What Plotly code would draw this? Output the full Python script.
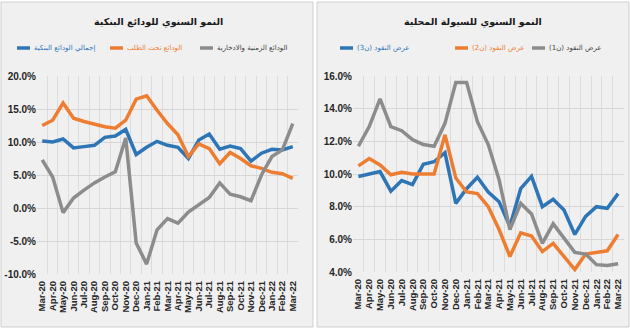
import plotly.graph_objects as go

months = ["Mar-20","Apr-20","May-20","Jun-20","Jul-20","Aug-20","Sep-20","Oct-20","Nov-20","Dec-20",
          "Jan-21","Feb-21","Mar-21","Apr-21","May-21","Jun-21","Jul-21","Aug-21","Sep-21","Oct-21",
          "Nov-21","Dec-21","Jan-22","Feb-22","Mar-22"]

# Left panel: bank deposits annual growth (%)
total_deposits = [10.15, 10.0, 10.45, 9.1, 9.3, 9.5, 10.7, 10.9, 11.9, 8.1,
                  9.2, 10.1, 9.5, 9.2, 7.5, 10.3, 11.2, 8.9, 9.4, 9.0,
                  7.1, 8.3, 8.9, 8.8, 9.3]
demand_deposits = [12.5, 13.3, 15.9, 13.6, 13.1, 12.7, 12.3, 12.1, 13.3, 16.5,
                   17.0, 14.8, 12.8, 11.1, 7.8, 9.7, 9.0, 6.7, 8.4, 7.5,
                   6.4, 6.0, 5.4, 5.2, 4.5]
time_deposits = [7.3, 4.7, -0.7, 1.5, 2.7, 3.8, 4.7, 5.5, 10.6, -5.3,
                 -8.5, -3.3, -1.6, -2.3, -0.6, 0.45, 1.6, 3.8, 2.1, 1.7,
                 1.1, 5.0, 7.8, 8.8, 12.8]

# Right panel: domestic liquidity annual growth (%)
m3 = [9.85, 10.0, 10.15, 8.95, 9.6, 9.35, 10.6, 10.75, 11.3, 8.2,
      9.1, 9.8, 8.9, 8.3, 6.8, 9.1, 9.85, 8.0, 8.45, 7.8,
      6.3, 7.4, 8.0, 7.9, 8.8]
m2 = [10.5, 10.95, 10.55, 9.95, 10.1, 10.0, 10.0, 10.0, 12.4, 9.75,
      8.9, 8.8, 8.0, 6.6, 4.95, 6.4, 6.2, 5.25, 5.75, 4.95,
      4.15, 5.1, 5.2, 5.3, 6.3]
m1 = [11.7, 12.9, 14.6, 12.9, 12.65, 12.1, 11.8, 11.7, 13.1, 15.6,
      15.6, 13.2, 11.8, 9.65, 6.6, 8.2, 7.55, 5.75, 6.95, 6.05,
      5.2, 5.1, 4.45, 4.4, 4.5]

left_ticks = [-10, -5, 0, 5, 10, 15, 20]
right_ticks = [4, 6, 8, 10, 12, 14, 16]
left_ticktext = [f"{v:.1f}%" for v in left_ticks]
right_ticktext = [f"{v:.1f}%" for v in right_ticks]

left_title = "النمو السنوي للودائع البنكية"
right_title = "النمو السنوي للسيولة المحلية"
left_names = ["إجمالي الودائع البنكية", "الودائع تحت الطلب", "الودائع الزمنية والادخارية"]
right_names = ["عرض النقود (ن3)", "عرض النقود (ن2)", "عرض النقود (ن1)"]

BLUE = "#2e75b6"
ORANGE = "#ed7d31"
GRAY = "#8c8c8c"
TXT_COLORS = [BLUE, ORANGE, "#404040"]
LINE_COLORS = [BLUE, ORANGE, GRAY]
LRM, RLE, PDF = "\u200e", "\u202b", "\u202c"

def rtl(s):
    return LRM + RLE + s + PDF + LRM

W, H = 630, 328
def px(x): return x / W
def py(y): return 1 - y / H

fig = go.Figure()

left_series = [total_deposits, demand_deposits, time_deposits]
right_series = [m3, m2, m1]

for i, (vals, name) in enumerate(zip(left_series, left_names)):
    fig.add_trace(go.Scatter(x=months, y=vals, mode="lines", name=name, showlegend=False,
                             line=dict(color=LINE_COLORS[i], width=3.5), xaxis="x", yaxis="y"))
for i, (vals, name) in enumerate(zip(right_series, right_names)):
    fig.add_trace(go.Scatter(x=months, y=vals, mode="lines", name=name, showlegend=False,
                             line=dict(color=LINE_COLORS[i], width=3.5), xaxis="x2", yaxis="y2"))

# Manual legend: key-line start (px) for each entry; text follows the key
left_key_x = [17, 110, 200]
right_key_x = [340, 455, 532]
KEY_LEN = 13
LEG_Y = 48

shapes = [
    dict(type="rect", xref="paper", yref="paper", x0=px(1), x1=px(313), y0=py(327), y1=py(2),
         fillcolor="#f0f0f0", line=dict(color="#cfcfcf", width=1), layer="below"),
    dict(type="rect", xref="paper", yref="paper", x0=px(317), x1=px(629), y0=py(327), y1=py(2),
         fillcolor="#f0f0f0", line=dict(color="#cfcfcf", width=1), layer="below"),
]
annotations = [
    dict(text=rtl(left_title), xref="paper", yref="paper", x=px(158), y=py(22), xanchor="center",
         yanchor="middle", showarrow=False,
         font=dict(size=9.5, color="#1a1a1a", weight="bold", family="DejaVu Sans")),
    dict(text=rtl(right_title), xref="paper", yref="paper", x=px(473), y=py(22), xanchor="center",
         yanchor="middle", showarrow=False,
         font=dict(size=9.5, color="#1a1a1a", weight="bold", family="DejaVu Sans")),
]
for names, keys in ((left_names, left_key_x), (right_names, right_key_x)):
    for i, (name, kx) in enumerate(zip(names, keys)):
        shapes.append(dict(type="line", xref="paper", yref="paper", x0=px(kx), x1=px(kx + KEY_LEN),
                           y0=py(LEG_Y), y1=py(LEG_Y), line=dict(color=LINE_COLORS[i], width=3.5)))
        annotations.append(dict(text=rtl(name), xref="paper", yref="paper", x=px(kx + KEY_LEN + 2),
                                y=py(LEG_Y), xanchor="left", yanchor="middle", showarrow=False,
                                font=dict(size=7, color=TXT_COLORS[i], family="DejaVu Sans")))

ytickfont = dict(family="Liberation Sans, Arial", size=10, color="#262626", weight="bold")
xtickfont = dict(family="Liberation Sans, Arial", size=9.5, color="#262626", weight="bold")
xcommon = dict(type="category", tickangle=-90, tickfont=xtickfont, showgrid=True, gridcolor="#dcdcdc",
               gridwidth=1, tickson="boundaries", ticks="", showline=False, zeroline=False,
               range=[-0.5, 24.5], tickmode="array", tickvals=months, ticktext=months,
               ticklabelstandoff=4)
ycommon = dict(tickfont=ytickfont, showgrid=True, gridcolor="#d6d6d6", gridwidth=1, ticks="",
               showline=False, zeroline=False, tickmode="array")

fig.update_layout(
    width=W, height=H, margin=dict(l=0, r=0, t=0, b=0, autoexpand=False),
    showlegend=False,
    paper_bgcolor="white", plot_bgcolor="rgba(0,0,0,0)",
    font=dict(family="DejaVu Sans", color="#262626"),
    xaxis=dict(domain=[px(37), px(298)], anchor="y", **xcommon),
    yaxis=dict(domain=[py(274), py(76)], anchor="x", range=[-10, 20], tickvals=left_ticks,
               ticktext=left_ticktext, **ycommon),
    xaxis2=dict(domain=[px(353), px(623.5)], anchor="y2", **xcommon),
    yaxis2=dict(domain=[py(272), py(76)], anchor="x2", range=[4, 16], tickvals=right_ticks,
                ticktext=right_ticktext, **ycommon),
    shapes=shapes,
    annotations=annotations,
)

fig.write_html("out.html")
